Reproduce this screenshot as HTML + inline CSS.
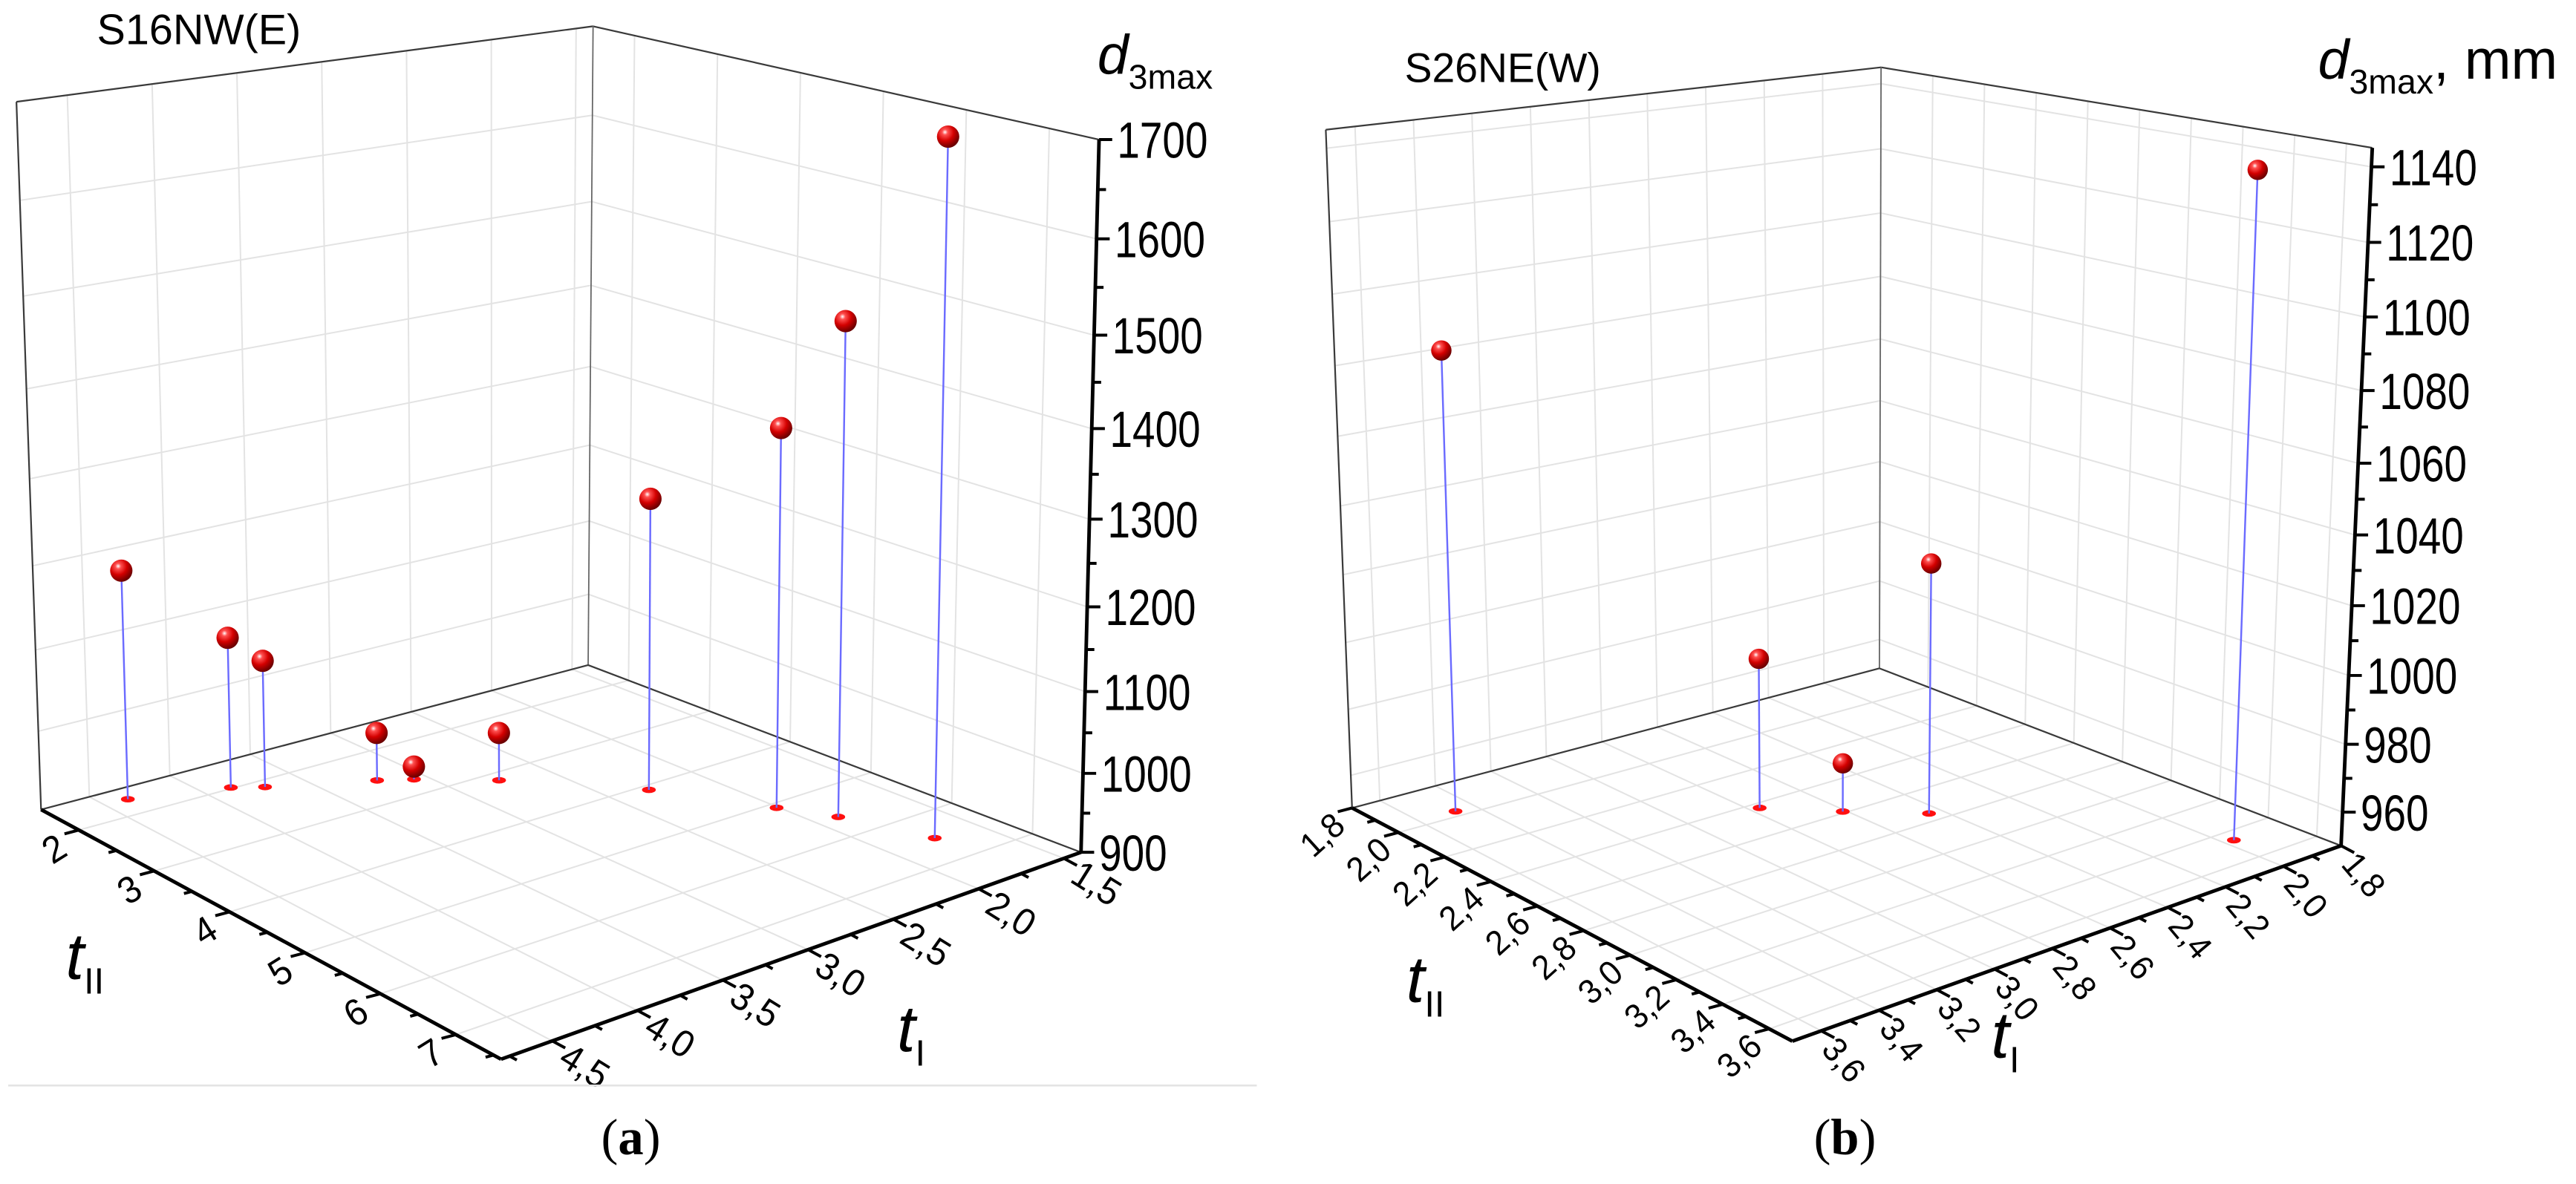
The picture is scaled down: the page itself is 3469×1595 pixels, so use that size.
<!DOCTYPE html>
<html><head><meta charset="utf-8"><style>
html,body{margin:0;padding:0;background:#fff;}
svg{display:block;}
text{font-family:"Liberation Sans",sans-serif;}
</style></head><body>
<svg id="fig" xmlns="http://www.w3.org/2000/svg" width="3469" height="1595" viewBox="0 0 1568 721" preserveAspectRatio="none">
<defs>
<radialGradient id="sph" cx="0.36" cy="0.3" r="0.7">
<stop offset="0" stop-color="#ffffff"/>
<stop offset="0.18" stop-color="#ff5050"/>
<stop offset="0.55" stop-color="#d40000"/>
<stop offset="1" stop-color="#6a0000"/>
</radialGradient>
</defs>
<g id="pa"></g>
<g id="pb"></g>
<line x1="5" y1="661" x2="765" y2="661" stroke="#e4e4e4" stroke-width="1.2"/>
<text x="59" y="27" font-size="26">S16NW(E)</text>
<text x="855" y="50" font-size="25">S26NE(W)</text>
<text x="384" y="703" font-size="31" text-anchor="middle" style="font-family:'Liberation Serif',serif">(<tspan font-weight="bold">a</tspan>)</text>
<text x="1123" y="703" font-size="31" text-anchor="middle" style="font-family:'Liberation Serif',serif">(<tspan font-weight="bold">b</tspan>)</text>
<text x="668" y="45" font-size="34"><tspan font-style="italic">d</tspan><tspan font-size="21" dy="9">3max</tspan></text>
<text x="1411" y="48" font-size="34"><tspan font-style="italic">d</tspan><tspan font-size="21" dy="9">3max</tspan><tspan dy="-9">, mm</tspan></text>
<text x="40" y="596" font-size="40"><tspan font-style="italic">t</tspan><tspan font-size="22" dy="9">II</tspan></text>
<text x="546" y="640" font-size="40"><tspan font-style="italic">t</tspan><tspan font-size="22" dy="9">I</tspan></text>
<text x="856" y="610" font-size="40"><tspan font-style="italic">t</tspan><tspan font-size="22" dy="9">II</tspan></text>
<text x="1212" y="644" font-size="40"><tspan font-style="italic">t</tspan><tspan font-size="22" dy="9">I</tspan></text>
</svg>
<script>
// ---- Panel (a) data ----
const aTII=[1.71,1.98,2.13,2.55,2.71,3.15,4.09,5.09,5.59,6.5];
const aTI=[4.36,3.85,3.71,3.22,3.07,2.76,2.3,2.01,1.88,1.74];
const aD=[1185,1092,1063,963,917,963,1266,1365,1491,1698];
const aTIITicks=[2,3,4,5,6,7];
const aTITicks=[1.5,2.0,2.5,3.0,3.5,4.0,4.5];
const aZTicks=[900,1000,1100,1200,1300,1400,1500,1600,1700];
// ---- Panel (b) data ----
const bTII=[1.97,2.43,2.59,2.75,3.46];
const bTI=[3.47,2.77,2.61,2.44,1.97];
const bD=[1086,996,965,1026,1140];
const bTIITicks=[1.8,2.0,2.2,2.4,2.6,2.8,3.0,3.2,3.4,3.6];
const bTITicks=[1.8,2.0,2.2,2.4,2.6,2.8,3.0,3.2,3.4,3.6];
const bZTicks=[960,980,1000,1020,1040,1060,1080,1100,1120,1140];

const NS='http://www.w3.org/2000/svg';
function mk(parent,tag,attrs){const e=document.createElementNS(NS,tag);for(const k in attrs)e.setAttribute(k,attrs[k]);parent.appendChild(e);return e;}

function makeProj(c){
  function bil(P,a,b){
    return [P.B[0]*(1-a)*(1-b)+P.L[0]*a*(1-b)+P.R[0]*(1-a)*b+P.F[0]*a*b,
            P.B[1]*(1-a)*(1-b)+P.L[1]*a*(1-b)+P.R[1]*(1-a)*b+P.F[1]*a*b];
  }
  const floor={B:c.B,L:c.L,R:c.R,F:c.F}, top={B:c.BT,L:c.LT,R:c.RT,F:c.FT};
  return function(tII,tI,z){
    const a=(tI-c.tI[0])/(c.tI[1]-c.tI[0]);
    const b=(tII-c.tII[0])/(c.tII[1]-c.tII[0]);
    const t=(z-c.z[0])/(c.z[1]-c.z[0]);
    const s=t*(1+c.k*t)/(1+c.k);
    const p0=bil(floor,a,b), p1=bil(top,a,b);
    return [p0[0]+s*(p1[0]-p0[0]), p0[1]+s*(p1[1]-p0[1])];
  };
}
function fmt(v,d){return v.toFixed(d).replace('.',',');}

function drawPanel(g,c,P,tIITicks,tITicks,zTicks,dec,tIIstep,tIstep,zstep,tIIoff,tIoff,tII,tI,D,rad,fs,rotII,rotI){
  const [x0,x1]=c.tII,[y0,y1]=c.tI,[z0,z1]=c.z;
  const grid=mk(g,'g',{stroke:'#e3e3e3','stroke-width':'0.9',fill:'none'});
  
  
  function ln(par,p,q,extra){const e=mk(par,'line',Object.assign({x1:p[0],y1:p[1],x2:q[0],y2:q[1]},extra||{}));return e;}
  tITicks.forEach(v=>ln(grid,P(x0,v,z0),P(x1,v,z0)));
  tIITicks.forEach(v=>ln(grid,P(v,y0,z0),P(v,y1,z0)));
  tITicks.forEach(v=>ln(grid,P(x0,v,z0),P(x0,v,z1)));
  zTicks.forEach(v=>ln(grid,P(x0,y0,v),P(x0,y1,v)));
  tIITicks.forEach(v=>ln(grid,P(v,y0,z0),P(v,y0,z1)));
  zTicks.forEach(v=>ln(grid,P(x0,y0,v),P(x1,y0,v)));
  const fr=mk(g,'g',{stroke:'#3a3a3a','stroke-width':'1',fill:'none'});
  
  
  ln(fr,P(x0,y1,z0),P(x0,y1,z1));
  ln(fr,P(x0,y1,z1),P(x0,y0,z1));
  ln(fr,P(x0,y0,z1),P(x1,y0,z1));
  ln(fr,P(x0,y0,z0),P(x0,y0,z1),{stroke:'#666','stroke-width':'0.8'});
  ln(fr,P(x0,y1,z0),P(x0,y0,z0));
  ln(fr,P(x0,y0,z0),P(x1,y0,z0));
  const ax=mk(g,'g',{stroke:'#000','stroke-width':'2.2',fill:'none'});
  
  
  ln(ax,P(x0,y1,z0),P(x1,y1,z0));
  ln(ax,P(x1,y1,z0),P(x1,y0,z0));
  ln(ax,P(x1,y0,z0),P(x1,y0,z1));
  function unit(p,q){const dx=q[0]-p[0],dy=q[1]-p[1],l=Math.hypot(dx,dy);return [dx/l,dy/l];}
  const lab=mk(g,'g',{fill:'#000'});
  
  
  function tick(p,dir,len){ln(ax,p,[p[0]+dir[0]*len,p[1]+dir[1]*len],{'stroke-width':'1.8'});}
  const dII=unit(P(x0,y1,z0),P(x0,y1+(y1-y0),z0));
  tIITicks.forEach((v,i)=>{
    const p=P(v,y1,z0);tick(p,dII,9);
    const m=v+tIIstep/2; if(m<x1) tick(P(m,y1,z0),dII,5);
    const t=mk(lab,'text',{x:0,y:0,'font-size':fs,'text-anchor':'end',transform:`translate(${p[0]+tIIoff[0]},${p[1]+tIIoff[1]}) rotate(${rotII}) scale(0.95,1)`,dy:'0.35em'});
    
    
    t.textContent=fmt(v,dec[0]);
  });
  const dI=unit(P(x1,y1,z0),P(x1+(x1-x0)*0.2,y1,z0));
  tITicks.forEach((v,i)=>{
    const p=P(x1,v,z0);tick(p,dI,9);
    const m=v+tIstep/2; if(m<y1) tick(P(x1,m,z0),dI,5);
    const t=mk(lab,'text',{x:0,y:0,'font-size':fs,'text-anchor':'start',transform:`translate(${p[0]+tIoff[0]},${p[1]+tIoff[1]}) rotate(${rotI}) scale(0.95,1)`,dy:'0.35em'});
    
    
    t.textContent=fmt(v,dec[1]);
  });
  zTicks.forEach((v,i)=>{
    const p=P(x1,y0,v);tick(p,[1,0],8);
    const m=v+zstep/2; if(m<=z1) tick(P(x1,y0,m),[1,0],5);
    const t=mk(lab,'text',{x:0,y:0,'font-size':'31',transform:`translate(${p[0]+11},${p[1]}) scale(0.8,1)`,dy:'0.36em'});
    
    
    t.textContent=String(v);
  });
  const dg=mk(g,'g',{});
  
  
  D.forEach((d,i)=>{
    const f=P(tII[i],tI[i],z0), p=P(tII[i],tI[i],d);
    const sh=mk(dg,'ellipse',{cx:f[0],cy:f[1],rx:4.2,ry:2,fill:'#ff1010'});
    
    
    const st=mk(dg,'line',{x1:f[0],y1:f[1],x2:p[0],y2:p[1],stroke:'#6b6bff','stroke-width':'1.1'});
    
    
  });
  D.forEach((d,i)=>{
    const p=P(tII[i],tI[i],d);
    const s=mk(dg,'circle',{cx:p[0],cy:p[1],r:rad,fill:'url(#sph)'});
    
    
  });
}

const ca={B:[358,405],L:[25,493],R:[658,519],F:[305,645],BT:[361,16],LT:[10,62],RT:[669,85],FT:[303,190],
  tII:[1.5,7.6],tI:[1.4,4.8],z:[900,1700],k:0.15};
const cb={B:[1144,407],L:[823,492],R:[1425,515],F:[1091,634],BT:[1145,41],LT:[807,79],RT:[1444,90],FT:[1089,189],
  tII:[1.8,3.7],tI:[1.8,3.7],z:[950,1145],k:0.07};
drawPanel(document.getElementById('pa'),ca,makeProj(ca),aTIITicks,aTITicks,aZTicks,[0,1],1,0.5,100,[-10,8],[7,7],aTII,aTI,aD,6.8,'23',-32,32);
drawPanel(document.getElementById('pb'),cb,makeProj(cb),bTIITicks,bTITicks,bZTicks,[1,1],0.2,0.2,20,[-8,7],[5,7],bTII,bTI,bD,6.2,'21',-42,50);
</script>
</body></html>
